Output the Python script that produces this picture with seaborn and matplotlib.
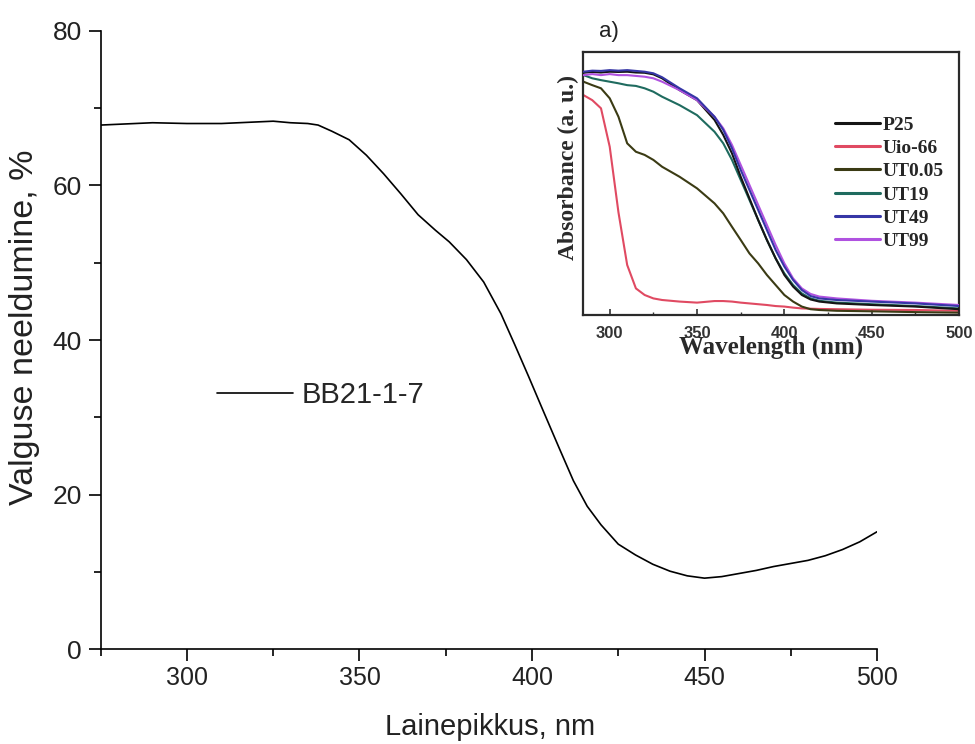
import matplotlib.pyplot as plt
import seaborn as sns
from matplotlib.ticker import MultipleLocator

# Main spectrum (BB21-1-7)
wavelength = [275, 280, 290, 300, 310, 320, 325, 330, 335, 338, 342, 347, 352, 357,
              362, 367, 372, 376, 381, 386, 391, 395, 399, 403, 408, 412, 416, 420,
              425, 430, 435, 440, 445, 450, 455, 460, 465, 470, 475, 480, 485, 490,
              495, 500]
absorption = [67.8, 67.9, 68.1, 68.0, 68.0, 68.2, 68.3, 68.1, 68.0, 67.8, 67.0, 65.9,
              63.9, 61.5, 58.9, 56.2, 54.2, 52.7, 50.4, 47.5, 43.4, 39.4, 35.3, 31.1,
              25.9, 21.8, 18.5, 16.1, 13.6, 12.2, 11.0, 10.1, 9.5, 9.2, 9.4, 9.8, 10.2,
              10.7, 11.1, 11.5, 12.1, 12.9, 13.9, 15.2]

# Inset (a): reference spectra, absorbance in a.u.
inset_nm = [285, 290, 295, 300, 305, 310, 315, 320, 325, 330, 340, 350, 360, 365, 370,
            375, 380, 385, 390, 395, 400, 405, 410, 415, 420, 430, 450, 475, 500]
p25 = [0.920, 0.923, 0.921, 0.924, 0.923, 0.924, 0.921, 0.920, 0.914, 0.899, 0.854,
       0.816, 0.741, 0.684, 0.614, 0.525, 0.443, 0.361, 0.285, 0.215, 0.152, 0.108,
       0.076, 0.059, 0.051, 0.044, 0.038, 0.032, 0.022]
uio66 = [0.835, 0.816, 0.785, 0.639, 0.390, 0.190, 0.101, 0.076, 0.063, 0.057, 0.051,
         0.047, 0.053, 0.053, 0.051, 0.047, 0.044, 0.041, 0.038, 0.034, 0.032, 0.028,
         0.025, 0.024, 0.023, 0.022, 0.020, 0.019, 0.016]
ut005 = [0.886, 0.873, 0.861, 0.823, 0.753, 0.652, 0.620, 0.608, 0.589, 0.563, 0.525,
         0.481, 0.424, 0.386, 0.335, 0.285, 0.234, 0.196, 0.152, 0.114, 0.076, 0.051,
         0.032, 0.022, 0.019, 0.016, 0.014, 0.011, 0.009]
ut19 = [0.911, 0.899, 0.892, 0.886, 0.880, 0.873, 0.870, 0.861, 0.848, 0.829, 0.797,
        0.759, 0.696, 0.652, 0.589, 0.513, 0.437, 0.361, 0.285, 0.215, 0.158, 0.114,
        0.082, 0.063, 0.054, 0.047, 0.041, 0.034, 0.025]
ut49 = [0.924, 0.928, 0.927, 0.930, 0.928, 0.930, 0.927, 0.924, 0.918, 0.903, 0.861,
        0.823, 0.753, 0.703, 0.633, 0.551, 0.475, 0.399, 0.323, 0.247, 0.184, 0.133,
        0.095, 0.072, 0.063, 0.057, 0.051, 0.044, 0.034]
ut99 = [0.911, 0.915, 0.911, 0.915, 0.911, 0.911, 0.908, 0.905, 0.899, 0.886, 0.854,
        0.816, 0.753, 0.709, 0.646, 0.570, 0.494, 0.418, 0.342, 0.266, 0.196, 0.139,
        0.101, 0.080, 0.070, 0.063, 0.054, 0.047, 0.038]

inset_series = [
    ("P25", p25, "#151515", 3),
    ("Uio-66", uio66, "#e04a62", 2),
    ("UT0.05", ut005, "#3b3b14", 2),
    ("UT19", ut19, "#1f6b5f", 2),
    ("UT49", ut49, "#3636a6", 5),
    ("UT99", ut99, "#b052e0", 4),
]

sns.set_style("ticks")
plt.rcParams["font.family"] = ["Liberation Sans", "DejaVu Sans"]

fig = plt.figure(figsize=(9.75, 7.44), dpi=100)

# 1. Main panel
ax = fig.add_axes([0.1033, 0.1273, 0.7962, 0.8314])
sns.lineplot(x=wavelength, y=absorption, ax=ax, color="black", linewidth=1.2,
             label="BB21-1-7")
ax.set_xlim(275, 500)
ax.set_ylim(0, 80)
ax.xaxis.set_major_locator(MultipleLocator(50))
ax.xaxis.set_minor_locator(MultipleLocator(25))
ax.yaxis.set_major_locator(MultipleLocator(20))
ax.yaxis.set_minor_locator(MultipleLocator(10))
sns.despine(ax=ax)
for side in ["left", "bottom"]:
    ax.spines[side].set_linewidth(1.2)
    ax.spines[side].set_color("black")
ax.tick_params(which="major", length=8.6, width=1.2, color="black", direction="out")
ax.tick_params(which="minor", length=4.8, width=1.2, color="black", direction="out")
ax.tick_params(axis="x", labelsize=18, pad=3.5, labelcolor="#222222")
ax.tick_params(axis="y", labelsize=19, pad=5, labelcolor="#222222")

ax.set_xlabel("Lainepikkus, nm", fontsize=21, color="#222222")
ax.xaxis.label.set_va("center")
ax.xaxis.set_label_coords(0.5009, -0.125)
ax.set_ylabel("Valguse neeldumine, %", fontsize=24.5, color="#222222")
ax.yaxis.label.set_va("center")
ax.yaxis.set_label_coords(-0.098, 0.52)

ax.legend(loc="center left", bbox_to_anchor=(0.1498, 0.4111), frameon=False,
          fontsize=21, handlelength=2.6, handletextpad=0.3, borderpad=0,
          borderaxespad=0)

# 2. Inset panel a)
ax_in = fig.add_axes([0.59795, 0.57661, 0.38564, 0.35390])
for name, values, color, z in inset_series:
    sns.lineplot(x=inset_nm, y=values, ax=ax_in, color=color, linewidth=1.5,
                 label=name, zorder=z)
ax_in.set_xlim(284.7, 500)
ax_in.set_ylim(0, 1)
ax_in.set_yticks([])
ax_in.xaxis.set_major_locator(MultipleLocator(50))
ax_in.xaxis.set_minor_locator(MultipleLocator(25))
for side in ax_in.spines:
    ax_in.spines[side].set_linewidth(1.6)
    ax_in.spines[side].set_color("#2a2a2a")
ax_in.tick_params(axis="x", which="major", direction="in", length=4, width=1.2,
                  color="#333333", labelsize=12, pad=8)
ax_in.tick_params(axis="x", which="minor", direction="in", length=2.5, width=1.0,
                  color="#333333")
for lbl in ax_in.get_xticklabels():
    lbl.set_fontweight("bold")
    lbl.set_color("#333333")
ax_in.set_xlabel("")
ax_in.set_ylabel("")

leg = ax_in.legend(loc="center left", bbox_to_anchor=(0.670, 0.501), frameon=False,
                   handlelength=2.3, handletextpad=0.17, labelspacing=0.29,
                   borderpad=0, borderaxespad=0,
                   prop={"family": "Liberation Serif", "weight": "bold", "size": 14})
for line in leg.get_lines():
    line.set_linewidth(2.2)

fig.text((583 + 188) / 975, 1 - 347 / 744, "Wavelength (nm)", ha="center",
         va="center", fontsize=18, fontweight="bold", family="Liberation Serif",
         color="#2a2a2a")
fig.text(568 / 975, 1 - 168 / 744, "Absorbance (a. u.)", ha="center", va="center",
         rotation=90, fontsize=17, fontweight="bold", family="Liberation Serif",
         color="#2a2a2a")
fig.text(609 / 975, 1 - 32 / 744, "a)", ha="center", va="center", fontsize=16,
         color="#222222")

fig.savefig("out.png", dpi=100)
plt.close(fig)
